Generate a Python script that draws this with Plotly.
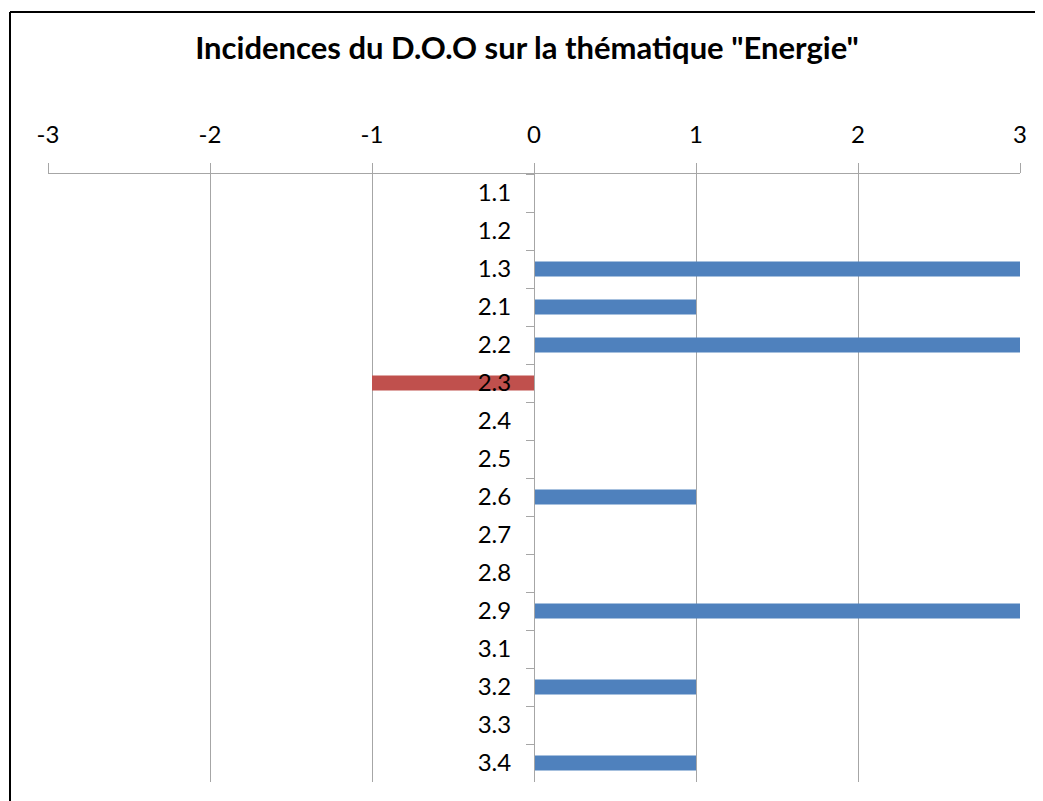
import plotly.graph_objects as go

categories = ["1.1", "1.2", "1.3", "2.1", "2.2", "2.3", "2.4", "2.5",
              "2.6", "2.7", "2.8", "2.9", "3.1", "3.2", "3.3", "3.4"]
values = [0, 0, 3, 1, 3, -1, 0, 0, 1, 0, 0, 3, 0, 1, 0, 1]
x_ticks = [-3, -2, -1, 0, 1, 2, 3]

BLUE = "#4F81BD"
RED = "#C0504D"
colors = [RED if v < 0 else BLUE for v in values]

# page body has an 8px default margin; compensate
OFF = 8
W, H = 1043 - OFF, 801 - OFF
L, R, T, B = 48 - OFF, 1043 - 1020, 174 - OFF, 801 - 782
PW = W - L - R
PH = H - T - B

fig = go.Figure()
fig.add_trace(go.Bar(
    y=categories, x=values, orientation="h", width=0.4,
    marker=dict(color=colors, line=dict(width=0)),
    showlegend=False, hoverinfo="x+y",
))

axis_gray = "#A6A6A6"
FONT = "Lato, Open Sans, sans-serif"
fig.update_layout(
    width=W, height=H,
    margin=dict(l=L, r=R, t=T, b=B),
    paper_bgcolor="white", plot_bgcolor="white",
    font=dict(family=FONT, color="black"),
    title=dict(text='<b>Incidences du D.O.O sur la thématique "Energie"</b>',
               x=(527 - OFF) / W, xanchor="center", xref="container",
               y=1 - (48 - OFF) / H, yanchor="middle",
               font=dict(size=31, family=FONT, color="black")),
    xaxis=dict(side="top", range=[-3, 3], tickvals=x_ticks,
               ticktext=[str(t) for t in x_ticks],
               showgrid=True, gridcolor=axis_gray, gridwidth=1,
               zeroline=False, showline=True, linecolor=axis_gray, linewidth=1,
               ticks="outside", ticklen=10, tickcolor=axis_gray,
               tickfont=dict(size=24, family=FONT),
               ticklabelstandoff=10, fixedrange=True, automargin=False),
    yaxis=dict(type="category", categoryorder="array", categoryarray=categories,
               autorange="reversed", anchor="free", position=0.5,
               showgrid=False, zeroline=False, showline=True,
               linecolor=axis_gray, linewidth=1,
               ticks="outside", tickson="boundaries", ticklen=8, tickcolor=axis_gray,
               tickfont=dict(size=24, family=FONT),
               ticklabelstandoff=18, fixedrange=True, automargin=False),
    bargap=0.6,
    shapes=[
        dict(type="line", xref="paper", yref="paper",
             x0=(10 - 48) / PW, x1=(W - L) / PW,
             y0=(782 - 12) / PH, y1=(782 - 12) / PH,
             line=dict(color="black", width=2)),
        dict(type="line", xref="paper", yref="paper",
             x0=(10 - 48) / PW, x1=(10 - 48) / PW,
             y0=-B / PH, y1=(782 - 12) / PH,
             line=dict(color="black", width=2)),
    ],
)

fig.write_html("out.html", config={"displayModeBar": False})
